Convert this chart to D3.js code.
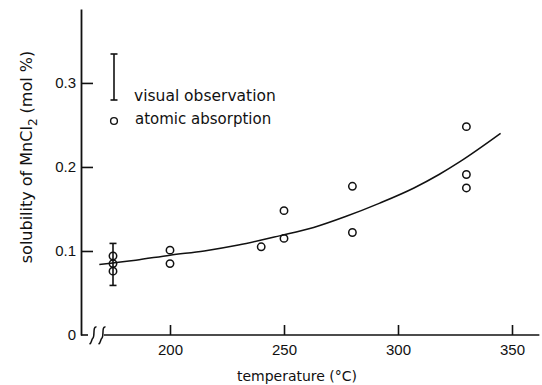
<!DOCTYPE html>
<html>
<head>
<meta charset="utf-8">
<script src="https://cdn.jsdelivr.net/npm/d3@7"></script>
<style>
  body { margin: 0; background: #fff; }
  svg { display: block; font-family: "DejaVu Sans", sans-serif; }
  .axis text { font-size: 15px; fill: #111; }
</style>
</head>
<body>
<svg id="chart"></svg>
<script>
// atomic absorption measurements (temperature °C, solubility mol %)
const aaTemp = [175, 175, 175, 200, 200, 240, 250, 250, 280, 280, 330, 330, 330];
const aaSol  = [0.094, 0.085, 0.076, 0.101, 0.085, 0.105, 0.148, 0.115, 0.177, 0.122, 0.248, 0.191, 0.175];

// visual observation (error bar)
const visTemp = [175];
const visLow  = [0.059];
const visHigh = [0.109];

// fitted curve
const fitTemp = [169, 185, 200, 215, 230, 248, 263, 277, 292, 307, 318, 327, 345];
const fitSol  = [0.084, 0.089, 0.095, 0.100, 0.107, 0.118, 0.128, 0.141, 0.157, 0.175, 0.191, 0.206, 0.240];

const xTicks = [200, 250, 300, 350];
const yTicks = [0, 0.1, 0.2, 0.3];

const width = 542, height = 385;
const svg = d3.select('#chart').attr('width', width).attr('height', height);

const x = d3.scaleLinear().domain([200, 350]).range([170, 512]);
const y = d3.scaleLinear().domain([0, 0.388]).range([335, 9]);

const ink = '#111';

// x axis (broken near the origin)
const xAxis = d3.axisBottom(x)
    .tickValues(xTicks)
    .tickSizeInner(-10)
    .tickSizeOuter(0)
    .tickPadding(9)
    .tickFormat(d3.format('d'));

const xAxisG = svg.append('g')
    .attr('class', 'axis x-axis')
    .attr('transform', `translate(0,${y(0)})`)
    .call(xAxis)
    .call(g => g.select('.domain').remove());
xAxisG.selectAll('line').attr('stroke', ink).attr('stroke-width', 1.6);

svg.append('line')
    .attr('x1', x(171)).attr('x2', x(362))
    .attr('y1', y(0)).attr('y2', y(0))
    .attr('stroke', ink).attr('stroke-width', 1.6);

// short stub from the y axis, then the break marks
svg.append('line')
    .attr('x1', 81).attr('x2', 88)
    .attr('y1', y(0)).attr('y2', y(0))
    .attr('stroke', ink).attr('stroke-width', 1.6);

[93, 102].forEach(bx => {
    svg.append('path')
        .attr('d', `M${bx + 3.5},${y(0) - 8} C${bx - 0.5},${y(0) - 9} ${bx + 2},${y(0) + 1} ${bx},${y(0) + 3} S${bx - 1},${y(0) + 8} ${bx - 3.5},${y(0) + 9}`)
        .attr('fill', 'none').attr('stroke', ink).attr('stroke-width', 1.5);
});

// y axis
const yAxis = d3.axisLeft(y)
    .tickValues(yTicks)
    .tickSizeInner(-12)
    .tickSizeOuter(0)
    .tickPadding(5)
    .tickFormat(d => d === 0 ? '0' : d.toFixed(1));

const yAxisG = svg.append('g')
    .attr('class', 'axis y-axis')
    .attr('transform', 'translate(81,0)')
    .call(yAxis);
yAxisG.select('.domain').attr('stroke', ink).attr('stroke-width', 1.8);
yAxisG.selectAll('line').attr('stroke', ink).attr('stroke-width', 1.6);
yAxisG.selectAll('.tick').filter(d => d === 0).select('line').remove();

// axis titles
svg.append('text')
    .attr('x', 297).attr('y', 381)
    .attr('text-anchor', 'middle')
    .style('font-size', '14px')
    .attr('fill', ink)
    .text('temperature (°C)');

const yTitle = svg.append('text')
    .attr('transform', 'translate(32,157) rotate(-90)')
    .attr('text-anchor', 'middle')
    .style('font-size', '16px')
    .attr('fill', ink);
yTitle.append('tspan').text('solubility of MnCl');
yTitle.append('tspan').attr('dy', 5).style('font-size', '12px').text('2');
yTitle.append('tspan').attr('dy', -5).text(' (mol %)');

// fitted curve
const fitData = fitTemp.map((t, i) => ({t: t, v: fitSol[i]}));
const line = d3.line()
    .x(d => x(d.t))
    .y(d => y(d.v))
    .curve(d3.curveMonotoneX);

svg.append('path')
    .datum(fitData)
    .attr('d', line)
    .attr('fill', 'none')
    .attr('stroke', ink)
    .attr('stroke-width', 1.5);

// error bars (visual observation)
const errG = svg.append('g').attr('stroke', ink).attr('stroke-width', 1.6);
visTemp.forEach((t, i) => {
    errG.append('line')
        .attr('x1', x(t)).attr('x2', x(t))
        .attr('y1', y(visLow[i])).attr('y2', y(visHigh[i]));
    [visLow[i], visHigh[i]].forEach(v => {
        errG.append('line')
            .attr('x1', x(t) - 3.5).attr('x2', x(t) + 3.5)
            .attr('y1', y(v)).attr('y2', y(v));
    });
});

// atomic absorption points
svg.selectAll('.point')
    .data(aaTemp.map((t, i) => ({t: t, v: aaSol[i]})))
    .join('circle')
    .attr('class', 'point')
    .attr('cx', d => x(d.t))
    .attr('cy', d => y(d.v))
    .attr('r', 3.7)
    .attr('fill', 'none')
    .attr('stroke', ink)
    .attr('stroke-width', 1.5);

// legend
const legend = svg.append('g').attr('stroke', ink).attr('stroke-width', 1.6);
legend.append('line').attr('x1', 114).attr('x2', 114).attr('y1', 54).attr('y2', 100);
legend.append('line').attr('x1', 110.5).attr('x2', 117.5).attr('y1', 54).attr('y2', 54);
legend.append('line').attr('x1', 110.5).attr('x2', 117.5).attr('y1', 100).attr('y2', 100);
legend.append('circle').attr('cx', 114).attr('cy', 121).attr('r', 3.4).attr('fill', 'none').attr('stroke-width', 1.4);

svg.append('text')
    .attr('x', 134).attr('y', 101)
    .style('font-size', '15.5px')
    .attr('fill', ink)
    .text('visual observation');
svg.append('text')
    .attr('x', 135).attr('y', 124)
    .style('font-size', '15px')
    .attr('fill', ink)
    .text('atomic absorption');
</script>
</body>
</html>
